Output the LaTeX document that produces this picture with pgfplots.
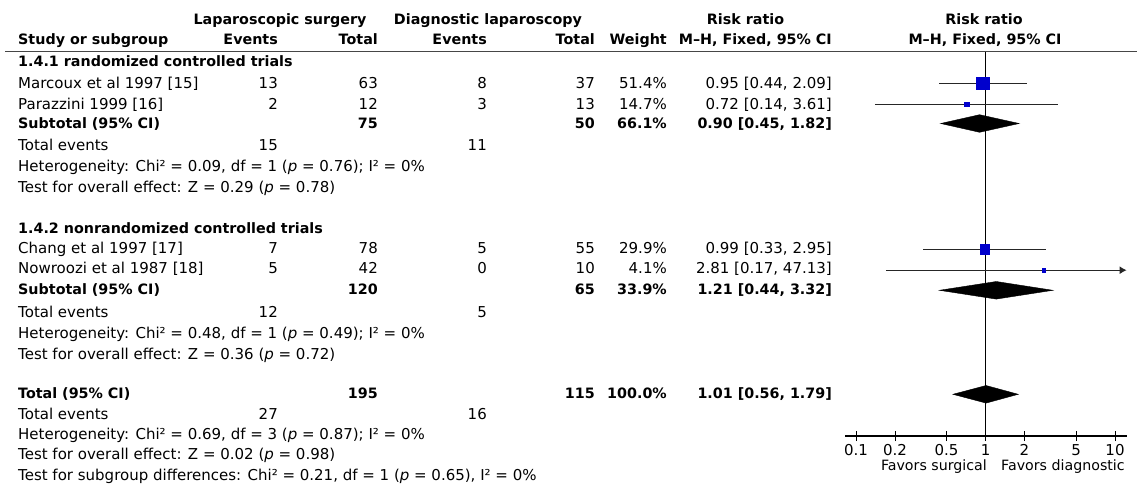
\documentclass[border=0pt]{standalone}
\usepackage{fontspec}
\setmainfont{DejaVu Sans}
\usepackage{pgfplots}
\pgfplotsset{compat=1.18}
\usetikzlibrary{arrows.meta}
\newcommand\fs{\fontsize{15pt}{17pt}\selectfont}
\newcommand\fb{\fontsize{14.3pt}{17pt}\selectfont\bfseries}
\newcommand\ff{\fontsize{14.2pt}{17pt}\selectfont}
\definecolor{sqblue}{RGB}{0,0,204}
\definecolor{rule}{RGB}{70,70,70}
\begin{document}
\begin{tikzpicture}[
  L/.style={anchor=base west,inner sep=0pt},
  R/.style={anchor=base east,inner sep=0pt},
  C/.style={anchor=base,inner sep=0pt},
  every node/.append style={font=\fs}]
\path[use as bounding box] (0,0) rectangle (1137pt,491pt);
% ---------- text table (pixel coordinates, y downward as negative) ----------
\begin{axis}[at={(0,0)},anchor=south west,width=1137pt,height=491pt,
  scale only axis,xmin=0,xmax=1137,ymin=-491,ymax=0,hide axis,clip=false]
% headers
\node[C,font=\fb] at (axis cs:280,-24.5) {Laparoscopic surgery};
\node[C,font=\fb] at (axis cs:488,-24.5) {Diagnostic laparoscopy};
\node[C,font=\fb] at (axis cs:745.5,-24.5) {Risk ratio};
\node[C,font=\fb] at (axis cs:984,-24.5) {Risk ratio};
\node[L,font=\fb] at (axis cs:18,-45) {Study or subgroup};
\node[R,font=\fb] at (axis cs:278,-45) {Events};
\node[R,font=\fb] at (axis cs:378,-45) {Total};
\node[R,font=\fb] at (axis cs:487,-45) {Events};
\node[R,font=\fb] at (axis cs:595,-45) {Total};
\node[R,font=\fb] at (axis cs:667,-45) {Weight};
\node[R,font=\fb] at (axis cs:832,-45) {M–H, Fixed, 95\% CI};
\node[C,font=\fb] at (axis cs:985,-45) {M–H, Fixed, 95\% CI};
\draw[rule,line width=1.4pt] (axis cs:5,-51.5) -- (axis cs:1137,-51.5);
% block 1
\node[L,font=\fb] at (axis cs:18,-66.5) {1.4.1 randomized controlled trials};
\node[L] at (axis cs:18,-89) {Marcoux et al 1997 [15]};
\node[R] at (axis cs:278,-89) {13};
\node[R] at (axis cs:378,-89) {63};
\node[R] at (axis cs:487,-89) {8};
\node[R] at (axis cs:595,-89) {37};
\node[R] at (axis cs:667,-89) {51.4\%};
\node[R] at (axis cs:832,-89) {0.95 [0.44, 2.09]};
\node[L] at (axis cs:18,-109.5) {Parazzini 1999 [16]};
\node[R] at (axis cs:278,-109.5) {2};
\node[R] at (axis cs:378,-109.5) {12};
\node[R] at (axis cs:487,-109.5) {3};
\node[R] at (axis cs:595,-109.5) {13};
\node[R] at (axis cs:667,-109.5) {14.7\%};
\node[R] at (axis cs:832,-109.5) {0.72 [0.14, 3.61]};
\node[L,font=\fb] at (axis cs:18,-128.5) {Subtotal (95\% CI)};
\node[R,font=\fb] at (axis cs:378,-128.5) {75};
\node[R,font=\fb] at (axis cs:595,-128.5) {50};
\node[R,font=\fb] at (axis cs:667,-128.5) {66.1\%};
\node[R,font=\fb] at (axis cs:832,-128.5) {0.90 [0.45, 1.82]};
\node[L] at (axis cs:18,-151) {Total events};
\node[R] at (axis cs:278,-151) {15};
\node[R] at (axis cs:487,-151) {11};
\node[L] at (axis cs:18,-171.5) {Heterogeneity: Chi² = 0.09, df = 1 (\textit{p} = 0.76); I² = 0\%};
\node[L] at (axis cs:18,-192.5) {Test for overall effect: Z = 0.29 (\textit{p} = 0.78)};
% block 2
\node[L,font=\fb] at (axis cs:18,-233.3) {1.4.2 nonrandomized controlled trials};
\node[L] at (axis cs:18,-253.5) {Chang et al 1997 [17]};
\node[R] at (axis cs:278,-253.5) {7};
\node[R] at (axis cs:378,-253.5) {78};
\node[R] at (axis cs:487,-253.5) {5};
\node[R] at (axis cs:595,-253.5) {55};
\node[R] at (axis cs:667,-253.5) {29.9\%};
\node[R] at (axis cs:832,-253.5) {0.99 [0.33, 2.95]};
\node[L] at (axis cs:18,-273.5) {Nowroozi et al 1987 [18]};
\node[R] at (axis cs:278,-273.5) {5};
\node[R] at (axis cs:378,-273.5) {42};
\node[R] at (axis cs:487,-273.5) {0};
\node[R] at (axis cs:595,-273.5) {10};
\node[R] at (axis cs:667,-273.5) {4.1\%};
\node[R] at (axis cs:832,-273.5) {2.81 [0.17, 47.13]};
\node[L,font=\fb] at (axis cs:18,-294.3) {Subtotal (95\% CI)};
\node[R,font=\fb] at (axis cs:378,-294.3) {120};
\node[R,font=\fb] at (axis cs:595,-294.3) {65};
\node[R,font=\fb] at (axis cs:667,-294.3) {33.9\%};
\node[R,font=\fb] at (axis cs:832,-294.3) {1.21 [0.44, 3.32]};
\node[L] at (axis cs:18,-317) {Total events};
\node[R] at (axis cs:278,-317) {12};
\node[R] at (axis cs:487,-317) {5};
\node[L] at (axis cs:18,-338) {Heterogeneity: Chi² = 0.48, df = 1 (\textit{p} = 0.49); I² = 0\%};
\node[L] at (axis cs:18,-359) {Test for overall effect: Z = 0.36 (\textit{p} = 0.72)};
% overall
\node[L,font=\fb] at (axis cs:18,-398.3) {Total (95\% CI)};
\node[R,font=\fb] at (axis cs:378,-398.3) {195};
\node[R,font=\fb] at (axis cs:595,-398.3) {115};
\node[R,font=\fb] at (axis cs:667,-398.3) {100.0\%};
\node[R,font=\fb] at (axis cs:832,-398.3) {1.01 [0.56, 1.79]};
\node[L] at (axis cs:18,-419.3) {Total events};
\node[R] at (axis cs:278,-419.3) {27};
\node[R] at (axis cs:487,-419.3) {16};
\node[L] at (axis cs:18,-439.5) {Heterogeneity: Chi² = 0.69, df = 3 (\textit{p} = 0.87); I² = 0\%};
\node[L] at (axis cs:18,-459.5) {Test for overall effect: Z = 0.02 (\textit{p} = 0.98)};
\node[L] at (axis cs:18,-480) {Test for subgroup differences: Chi² = 0.21, df = 1 (\textit{p} = 0.65), I² = 0\%};
% favours labels
\node[R,font=\ff] at (axis cs:987,-470) {Favors surgical};
\node[L,font=\ff] at (axis cs:1001,-470) {Favors diagnostic};
\end{axis}
% ---------- forest plot ----------
\begin{axis}[at={(845pt,55pt)},anchor=south west,width=282pt,height=384pt,
  scale only axis,xmode=log,xmin=0.0822,xmax=12.38,ymin=-436,ymax=-52,
  axis x line*=bottom,hide y axis,clip=false,
  x axis line style={black,line width=1.2pt,-},
  xtick={0.1,0.2,0.5,1,2,5,10},
  xticklabels={0.1,0.2,0.5,1,2,5,10},
  minor xtick={},
  tick align=center,major tick length=10pt,
  tick style={black,line width=1pt},
  xticklabel style={font=\fs,inner sep=0pt,anchor=north,yshift=-3pt},
  /pgf/number format/assume math mode=true]
% line of no effect
\addplot[black,line width=1.5pt] coordinates {(1,-52) (1,-436)};
% confidence intervals
\addplot[black!85,line width=1.2pt] coordinates {(0.44,-83.3) (2.09,-83.3)};
\addplot[black!85,line width=1.2pt] coordinates {(0.14,-104.3) (3.61,-104.3)};
\addplot[black!85,line width=1.2pt] coordinates {(0.33,-249.3) (2.95,-249.3)};
\addplot[black!85,line width=1.2pt,-{Latex[length=7pt,width=8pt]}] coordinates {(0.17,-270.2) (12.3,-270.2)};
% study squares
\addplot[only marks,mark=square*,mark size=6.35pt,mark options={sqblue,draw=none}] coordinates {(0.95,-83.3)};
\addplot[only marks,mark=square*,mark size=2.4pt,mark options={sqblue,draw=none}] coordinates {(0.72,-104.3)};
\addplot[only marks,mark=square*,mark size=4.65pt,mark options={sqblue,draw=none}] coordinates {(0.99,-249.3)};
\addplot[only marks,mark=square*,mark size=1.7pt,mark options={sqblue,draw=none}] coordinates {(2.81,-270.2)};
% pooled diamonds
\addplot[fill=black,draw=black] coordinates {(0.45,-123.5) (0.90,-114.7) (1.82,-123.5) (0.90,-132.3)} -- cycle;
\addplot[fill=black,draw=black] coordinates {(0.44,-290.3) (1.21,-281.5) (3.32,-290.3) (1.21,-299.1)} -- cycle;
\addplot[fill=black,draw=black] coordinates {(0.56,-394.3) (1.01,-385.5) (1.79,-394.3) (1.01,-403.1)} -- cycle;
\end{axis}
\end{tikzpicture}
\end{document}
